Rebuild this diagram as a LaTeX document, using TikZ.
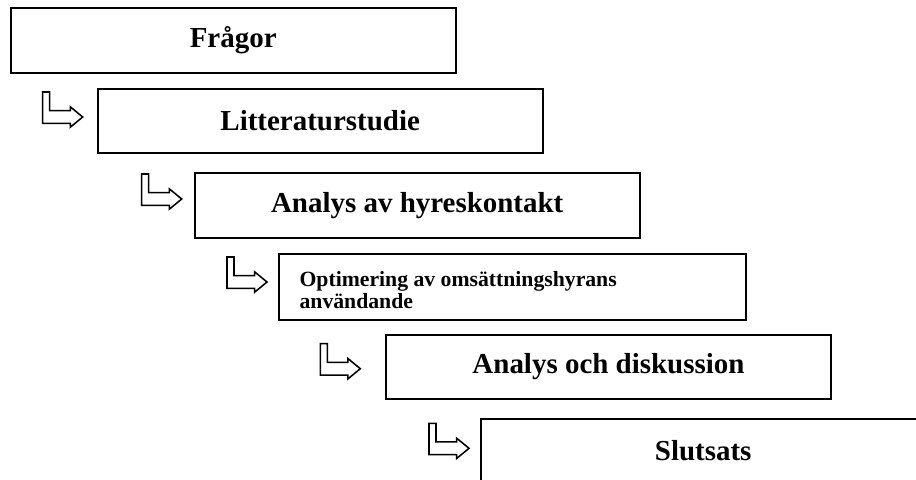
\documentclass[tikz,border=0pt]{standalone}
\usepackage{fontspec}
\setmainfont{Liberation Serif}

\begin{document}
\begin{tikzpicture}[
  stepbox/.style={draw, line width=1.4pt, minimum width=11.125cm, minimum height=1.61cm, inner sep=0pt, font=\fontsize{20.6}{24}\selectfont\bfseries},
  bentarrow/.style={draw, line width=1.1pt, line join=miter}
]
\useasboundingbox (0,0) rectangle (22.9,-11.975);
\clip (0,0) rectangle (22.9,-11.975);

\node[stepbox] (fragor) at (5.83,-1.0125) {Frågor};

\node[stepbox] (litteratur) at (8.005,-3.02) {Litteraturstudie};

\node[stepbox] (hyreskontakt) at (10.43,-5.1375) {Analys av hyreskontakt};

\node[stepbox, minimum width=11.675cm, minimum height=1.6425cm] (optimering) at (12.8125,-7.18) {};
\node[anchor=base west, inner sep=0pt] (optimeringtext) at (7.4825,-7.1675) {
\fontsize{15.44}{15.44}\selectfont\bfseries
\begin{tabular}[t]{@{}l@{}}Optimering av omsättningshyrans\\ användande\end{tabular}
};

\node[stepbox] (diskussion) at (15.2125,-9.175) {Analys och diskussion};

\node[stepbox] (slutsats) at (17.58,-11.27) {Slutsats};

% bent arrows in front of each step
\foreach \pos in {(1.0675,-2.3), (3.5425,-4.35), (5.675,-6.425), (8.0075,-8.5925), (10.725,-10.5825)}
  \draw[bentarrow, shift={\pos}] (0,0) -- (0.175,0) -- (0.175,-0.465) -- (0.69,-0.465) -- (0.69,-0.37)
    -- (1,-0.625) -- (0.69,-0.88) -- (0.69,-0.785) -- (0,-0.785) -- cycle;

\end{tikzpicture}
\end{document}
